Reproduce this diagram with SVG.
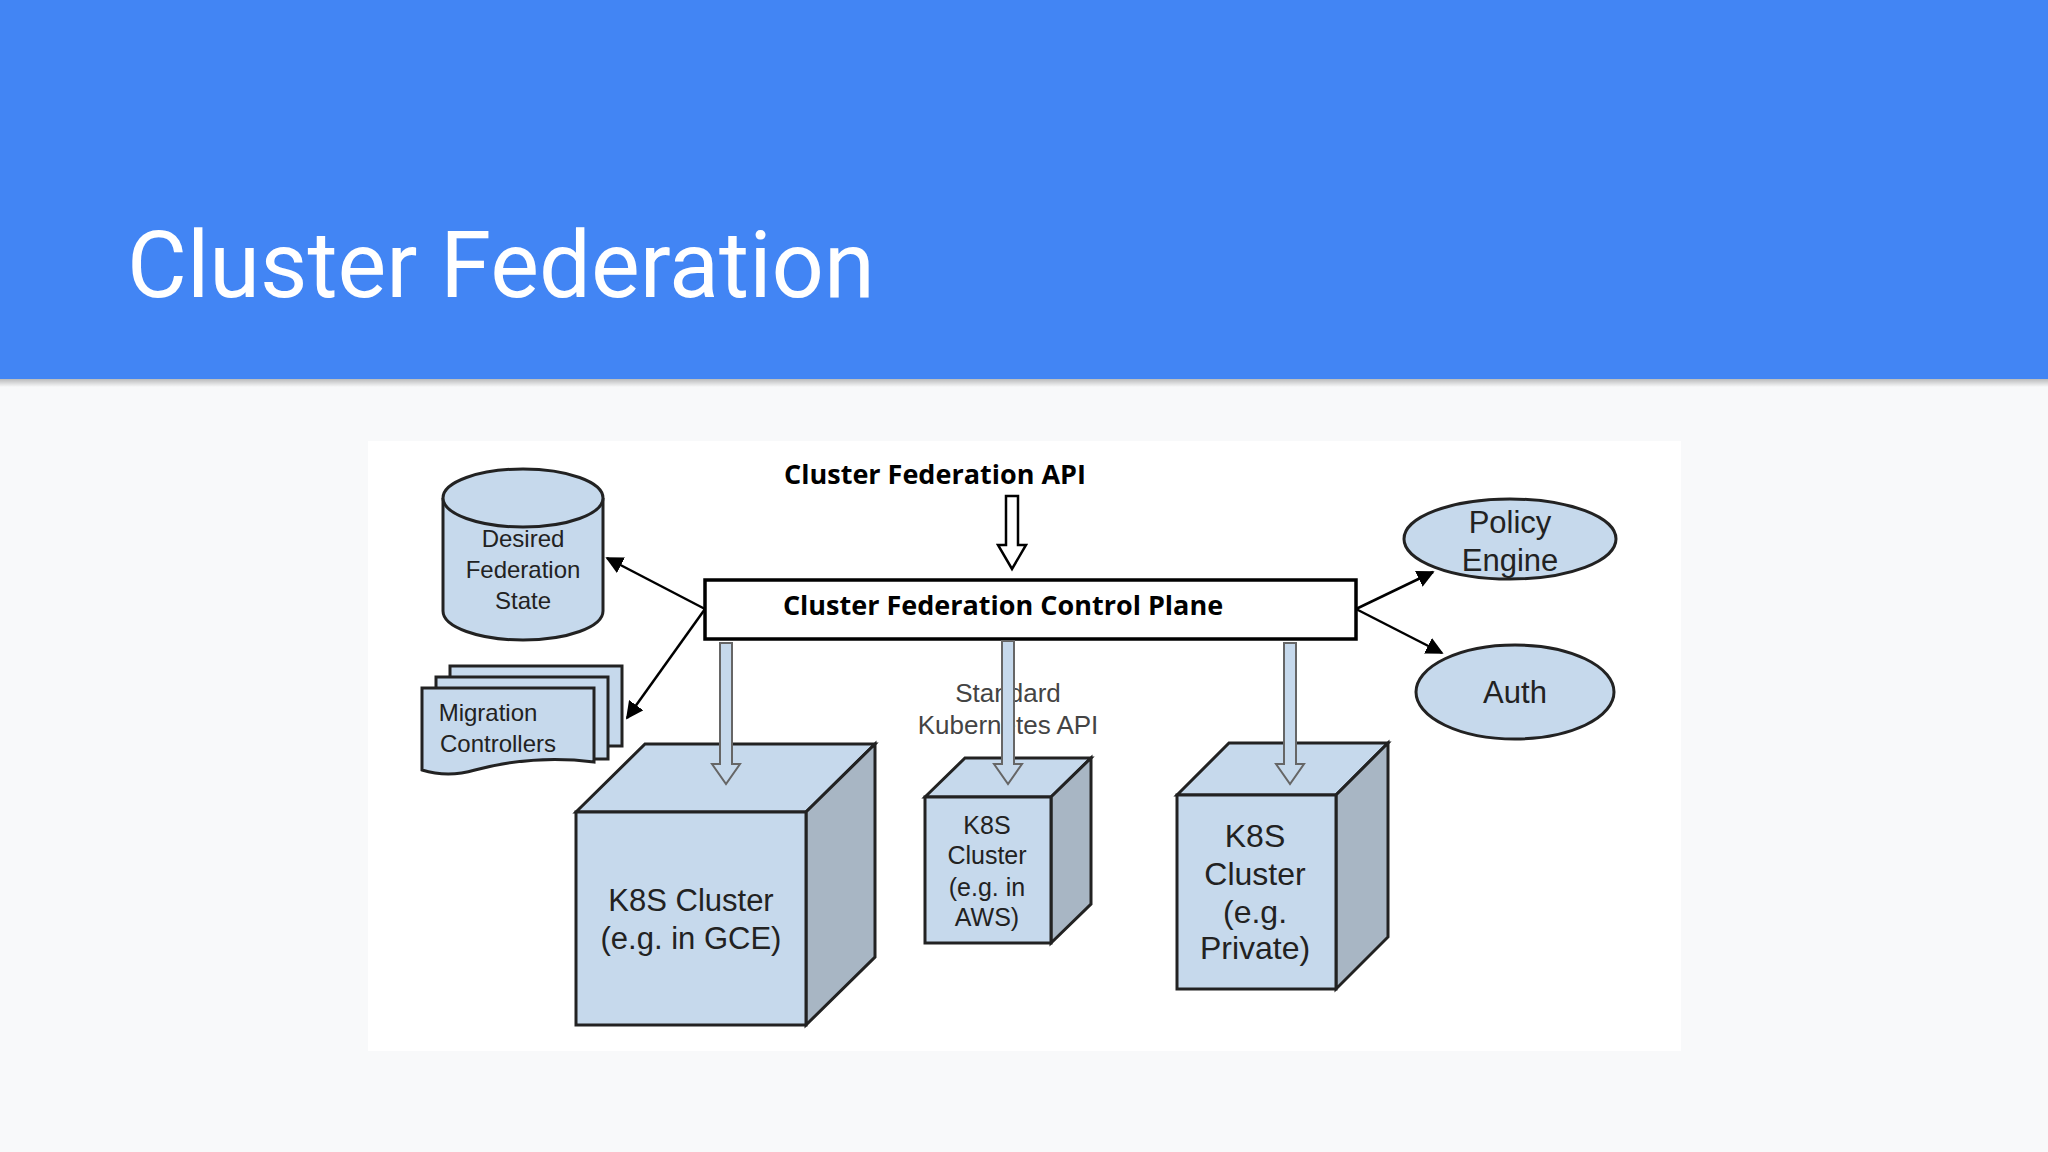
<svg xmlns="http://www.w3.org/2000/svg" width="2048" height="1152" viewBox="0 0 2048 1152">
<defs>
<marker id="ah" viewBox="0 0 10 10" refX="9" refY="5" markerWidth="7" markerHeight="7" orient="auto-start-reverse"><path d="M0,0 L10,5 L0,10 Z" fill="#000"/></marker>
<linearGradient id="sh" x1="0" y1="0" x2="0" y2="1"><stop offset="0" stop-color="#000" stop-opacity="0.25"/><stop offset="1" stop-color="#000" stop-opacity="0"/></linearGradient>
</defs>
<style>
.f{fill:#c6d9ec;stroke:#222;stroke-width:3}
.s{fill:#a8b6c4;stroke:#222;stroke-width:3}
.t{font-family:"Liberation Sans",Arial,sans-serif;fill:#222;text-anchor:middle}
.b{font-family:"Open Sans","Liberation Sans",sans-serif;font-weight:bold;fill:#000;text-anchor:middle;font-size:27px}
.ln{stroke:#000;stroke-width:2.5;fill:none;marker-end:url(#ah)}
.ha{fill:#c6d9ec;stroke:#666;stroke-width:2}
</style>
<rect width="2048" height="1152" fill="#f8f9fa"/>
<rect y="379" width="2048" height="8" fill="url(#sh)"/>
<rect width="2048" height="379" fill="#4285f4"/>
<text x="127" y="297" font-family="Roboto,sans-serif" font-size="92" fill="#fff">Cluster Federation</text>
<rect x="368" y="441" width="1313" height="610" fill="#fff"/>

<g id="api-label"><text class="b" x="935" y="484">Cluster Federation API</text></g>
<g id="control-plane">
<rect x="705" y="580" width="651" height="59" fill="#fff" stroke="#000" stroke-width="3.5"/>
<text class="b" x="1003" y="615">Cluster Federation Control Plane</text>
</g>
<g id="desired-state">
<path class="f" d="M443,498 V611 A80,29 0 0 0 603,611 V498"/>
<ellipse class="f" cx="523" cy="498" rx="80" ry="29"/>
<text class="t" font-size="24" x="523" y="547">Desired</text>
<text class="t" font-size="24" x="523" y="578">Federation</text>
<text class="t" font-size="24" x="523" y="609">State</text>
</g>
<g id="migration-controllers">
<rect class="f" x="450" y="666" width="172" height="80"/>
<rect class="f" x="436" y="677" width="172" height="82"/>
<path class="f" d="M422,688 H594 V762 C545,756 505,762 475,770 C455,776 438,775 422,770 Z"/>
<text class="t" font-size="24" x="488" y="721" >Migration</text>
<text class="t" font-size="24" x="498" y="752">Controllers</text>
</g>
<g id="policy-engine">
<ellipse class="f" cx="1510" cy="539" rx="106" ry="40"/>
<text class="t" font-size="31" x="1510" y="533">Policy</text>
<text class="t" font-size="31" x="1510" y="571">Engine</text>
</g>
<g id="auth">
<ellipse class="f" cx="1515" cy="692" rx="99" ry="47"/>
<text class="t" font-size="31" x="1515" y="703">Auth</text>
</g>
<g id="k8s-gce">
<path class="f" d="M576,812 L645,744 H875 L806,812 Z"/>
<path class="s" d="M806,812 L875,744 V957 L806,1025 Z"/>
<rect class="f" x="576" y="812" width="230" height="213"/>
<text class="t" font-size="31" x="691" y="911">K8S Cluster</text>
<text class="t" font-size="31" x="691" y="949">(e.g. in GCE)</text>
</g>
<g id="k8s-aws">
<path class="f" d="M925,797 L965,758 H1091 L1051,797 Z"/>
<path class="s" d="M1051,797 L1091,758 V904 L1051,943 Z"/>
<rect class="f" x="925" y="797" width="126" height="146"/>
<text class="t" font-size="25" x="987" y="834">K8S</text>
<text class="t" font-size="25" x="987" y="864">Cluster</text>
<text class="t" font-size="25" x="987" y="896">(e.g. in</text>
<text class="t" font-size="25" x="987" y="926">AWS)</text>
</g>
<g id="k8s-private">
<path class="f" d="M1177,795 L1229,743 H1388 L1336,795 Z"/>
<path class="s" d="M1336,795 L1388,743 V937 L1336,989 Z"/>
<rect class="f" x="1177" y="795" width="159" height="194"/>
<text class="t" font-size="32" x="1255" y="847">K8S</text>
<text class="t" font-size="32" x="1255" y="885">Cluster</text>
<text class="t" font-size="32" x="1255" y="923">(e.g.</text>
<text class="t" font-size="32" x="1255" y="959">Private)</text>
</g>
<g id="std-api-label">
<text class="t" font-size="26" x="1008" y="702" style="fill:#444">Standard</text>
<text class="t" font-size="26" x="1008" y="734" style="fill:#444">Kubernetes API</text>
</g>
<g id="connectors">
<path d="M1006,496 H1018 V545 H1026 L1012,569 L998,545 H1006 Z" fill="#fff" stroke="#000" stroke-width="2.5"/>
<line class="ln" x1="705" y1="609" x2="607" y2="558"/>
<line class="ln" x1="705" y1="609" x2="627" y2="718"/>
<line class="ln" x1="1356" y1="609" x2="1433" y2="572"/>
<line class="ln" x1="1356" y1="609" x2="1442" y2="653"/>
<path class="ha" d="M720,643 H732 V764 H740 L726,784 L712,764 H720 Z"/>
<path class="ha" d="M1002,641 H1014 V764 H1022 L1008,784 L994,764 H1002 Z"/>
<path class="ha" d="M1284,643 H1296 V764 H1304 L1290,784 L1276,764 H1284 Z"/>
</g>
</svg>
